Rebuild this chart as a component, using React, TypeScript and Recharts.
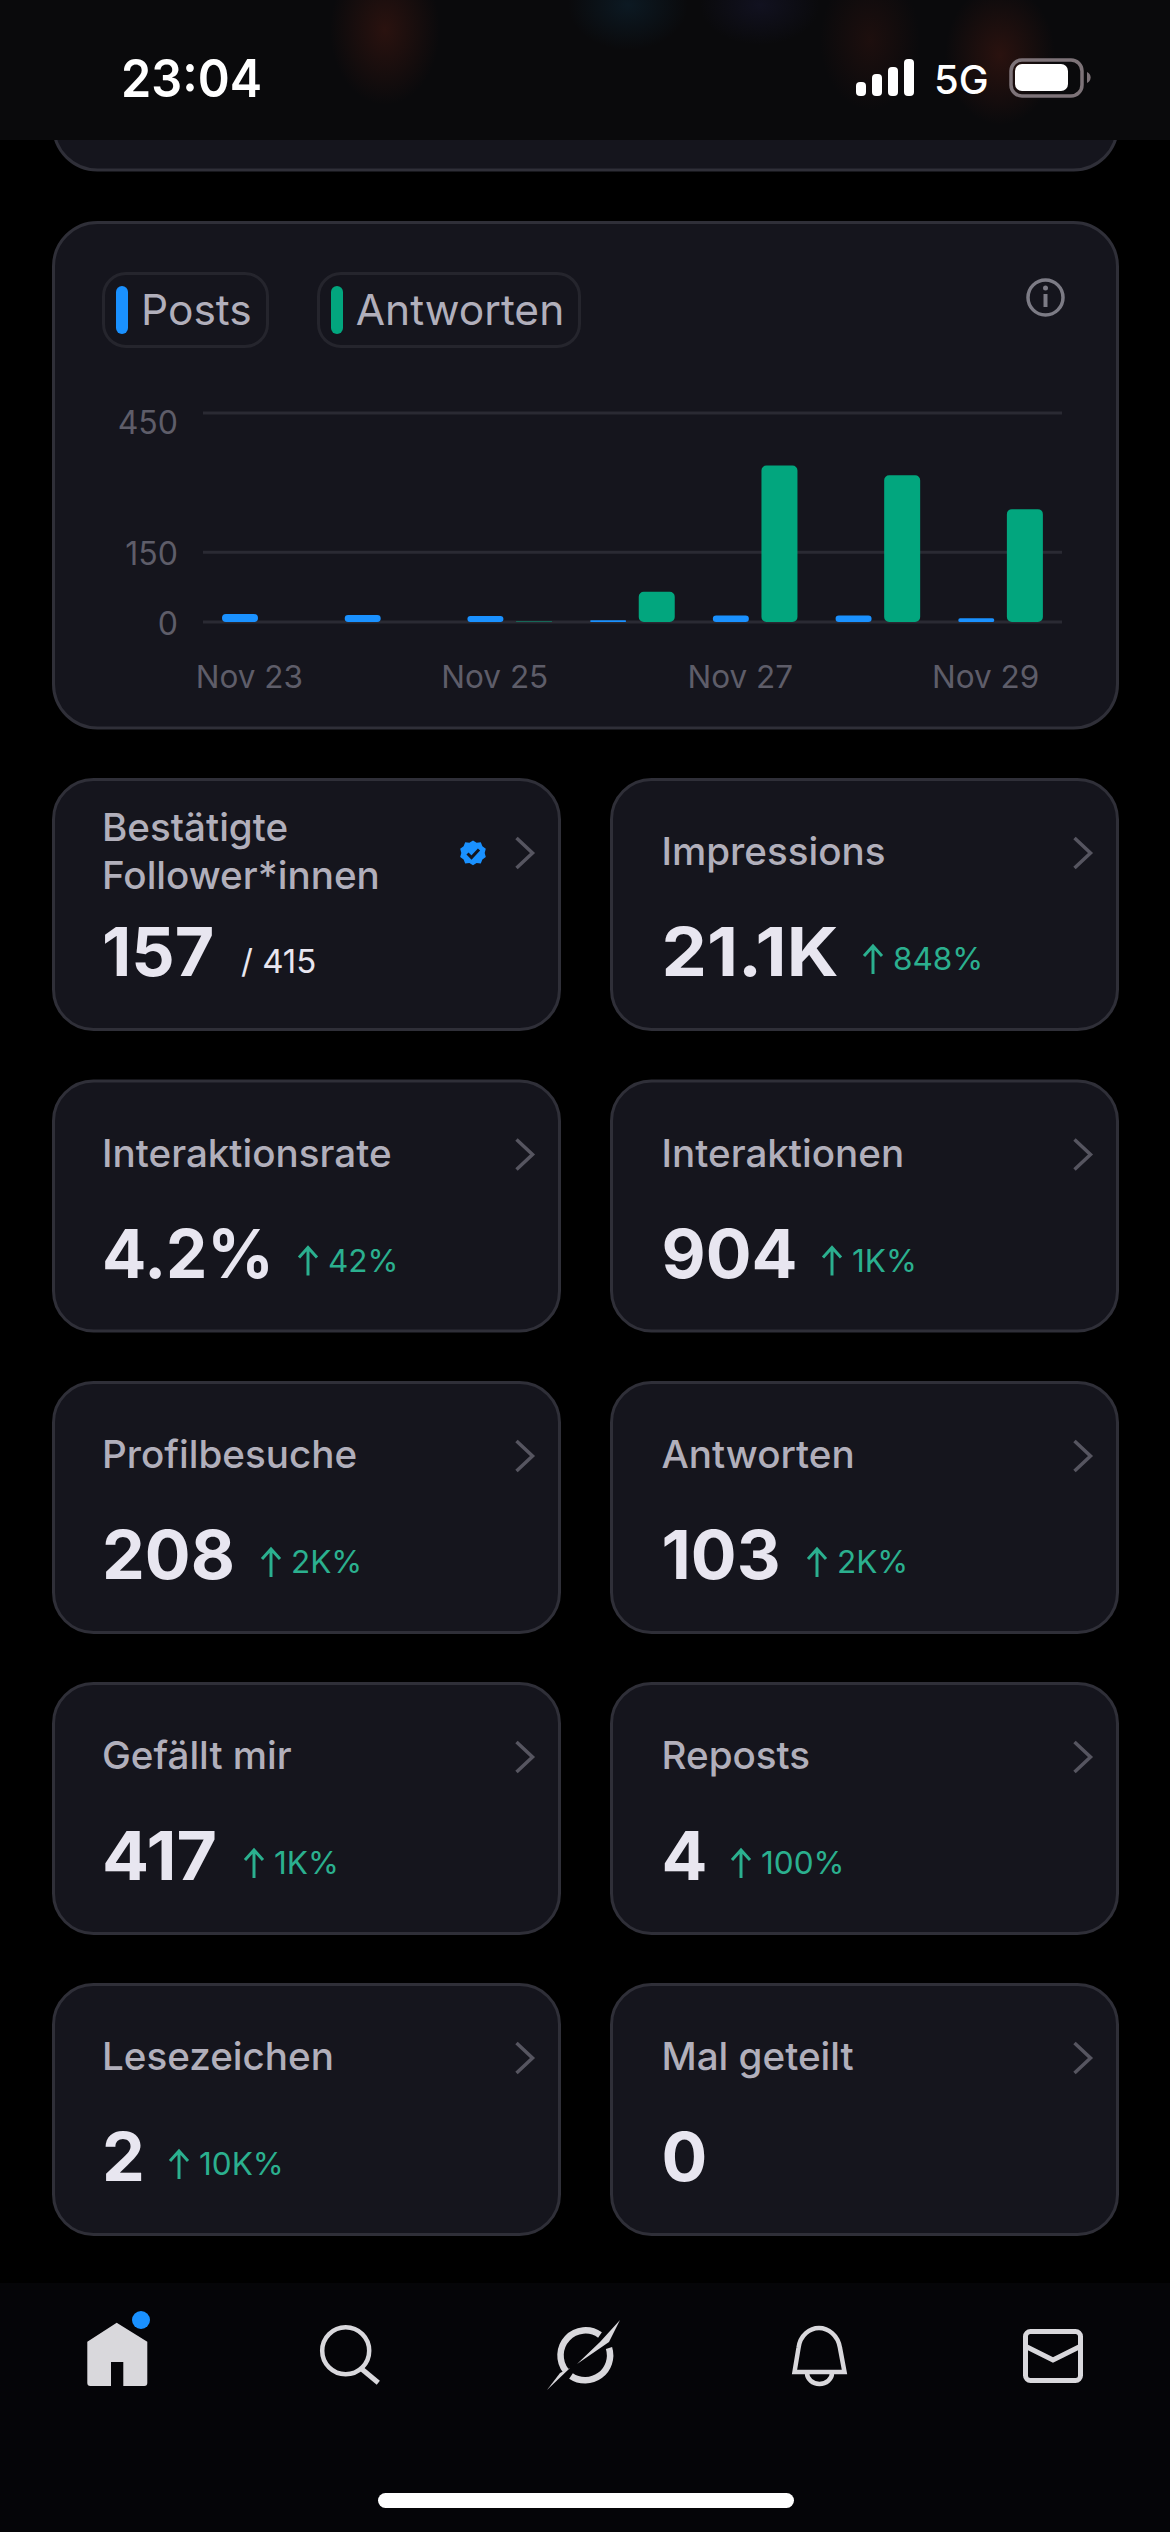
import React from "react";
import { BarChart, Bar, XAxis, YAxis, CartesianGrid, Legend } from "recharts";

const days = ["Nov 23", "Nov 24", "Nov 25", "Nov 26", "Nov 27", "Nov 28", "Nov 29"];
const posts = [17, 15, 13, 4, 14, 14, 8];
const replies = [0, 0, 1, 65, 337, 316, 243];
const yTicks = [0, 150, 450];

const metricLabels = ["Impressions", "Interaktionsrate", "Interaktionen", "Profilbesuche", "Antworten", "Gefällt mir", "Reposts", "Lesezeichen", "Mal geteilt"];
const metricValues = ["21.1K", "4.2%", "904", "208", "103", "417", "4", "2", "0"];
const metricDeltas = ["848%", "42%", "1K%", "2K%", "2K%", "1K%", "100%", "10K%", ""];
const deltaArrowX = [863, 298, 822, 261, 807, 244, 731, 169, 0];

const chartData = days.map((d, i) => ({ day: d, posts: posts[i], replies: replies[i] }));

const FONT = "Inter, 'Noto Sans', sans-serif";
const CARD = "#15151d";
const BORDER = "#2f2f38";
const LABEL = "#b1afbb";
const VALUE = "#e8e6f0";
const GREEN_TEXT = "#2bb08f";
const ICON = "#d9d8dc";
const ROW_TOPS = [778, 1079.5, 1381, 1682, 1983];
const COL_LEFTS = [52, 610];
const CARD_W = 509;
const CARD_H = 253;
const VALUE_FIT: Record<string, number> = { "21.1K": 177, "4.2%": 172, "417": 115 };

function Chevron({ x, y }: { x: number; y: number }) {
  return <path d={`M${x + 464.5} ${y + 60}L${x + 480.5} ${y + 75}L${x + 464.5} ${y + 90}`} fill="none" stroke="#565560" strokeWidth={3.5} />;
}

function Card({ x, y }: { x: number; y: number }) {
  return <rect x={x + 1.5} y={y + 1.5} width={CARD_W - 3} height={CARD_H - 3} rx={40} fill={CARD} stroke={BORDER} strokeWidth={3} />;
}

function Delta({ x, baseline, text }: { x: number; baseline: number; text: string }) {
  return (
    <g>
      <path d={`M${x + 10} ${baseline + 4}V${baseline - 24}M${x + 1} ${baseline - 14}L${x + 10} ${baseline - 24}L${x + 19} ${baseline - 14}`} fill="none" stroke={GREEN_TEXT} strokeWidth={3} />
      <text x={x + 30} y={baseline} fill={GREEN_TEXT} fontSize={31.5} fontFamily={FONT}>{text}</text>
    </g>
  );
}

function Metric({ index }: { index: number }) {
  const pos = index + 1;
  const col = pos % 2;
  const row = Math.floor(pos / 2);
  const x = COL_LEFTS[col];
  const y = ROW_TOPS[row];
  const textX = x + (col ? 51.5 : 50);
  const fit = VALUE_FIT[metricValues[index]];
  return (
    <g>
      <Card x={x} y={y} />
      <text x={textX} y={y + 87} fill={LABEL} fontSize={38.6} fontWeight={500} fontFamily={FONT}>{metricLabels[index]}</text>
      <text x={textX} y={y + 198} fill={VALUE} fontSize={68} fontWeight={700} fontFamily={FONT} {...(fit ? { textLength: fit, lengthAdjust: "spacingAndGlyphs" } : {})}>{metricValues[index]}</text>
      {metricDeltas[index] ? <Delta x={deltaArrowX[index]} baseline={y + 192} text={metricDeltas[index]} /> : null}
      <Chevron x={x} y={y} />
    </g>
  );
}

function Backdrop() {
  return (
    <svg width={1170} height={2532} style={{ position: "absolute", left: 0, top: 0 }}>
      <defs>
        <radialGradient id="redBlob"><stop offset="0%" stopColor="#4a1a12" stopOpacity={0.5} /><stop offset="100%" stopColor="#4a1a12" stopOpacity={0} /></radialGradient>
        <radialGradient id="blueBlob"><stop offset="0%" stopColor="#0f3045" stopOpacity={0.4} /><stop offset="100%" stopColor="#0f3045" stopOpacity={0} /></radialGradient>
        <radialGradient id="navyBlob"><stop offset="0%" stopColor="#1a1a38" stopOpacity={0.45} /><stop offset="100%" stopColor="#1a1a38" stopOpacity={0} /></radialGradient>
      </defs>
      <rect x={0} y={0} width={1170} height={2532} fill="#000" />

      <rect x={53.5} y={60} width={1064} height={110} rx={44} fill={CARD} stroke={BORDER} strokeWidth={3} />
      <rect x={53.5} y={222.5} width={1064} height={505.5} rx={44} fill={CARD} stroke={BORDER} strokeWidth={3} />

      {/* status bar */}
      <rect x={0} y={0} width={1170} height={140} fill="#0a0a0c" />
      <ellipse cx={385} cy={30} rx={55} ry={75} fill="url(#redBlob)" />
      <ellipse cx={628} cy={5} rx={60} ry={45} fill="url(#blueBlob)" />
      <ellipse cx={760} cy={5} rx={60} ry={40} fill="url(#navyBlob)" />
      <ellipse cx={870} cy={40} rx={50} ry={70} fill="url(#redBlob)" opacity={0.6} />
      <ellipse cx={1000} cy={55} rx={55} ry={70} fill="url(#redBlob)" />
      <text x={121} y={97} fill="#fff" fontSize={52} fontWeight={600} fontFamily={FONT} textLength={141} lengthAdjust="spacingAndGlyphs">23:04</text>
      <rect x={856} y={82} width={10} height={14} rx={4} fill="#fff" />
      <rect x={872} y={74} width={10} height={22} rx={4} fill="#fff" />
      <rect x={888} y={67} width={10} height={29} rx={4} fill="#fff" />
      <rect x={904} y={59} width={10} height={37} rx={4} fill="#fff" />
      <text x={934} y={94} fill="#fff" fontSize={40} fontWeight={500} fontFamily={FONT}>5G</text>
      <rect x={1011} y={60} width={71} height={36} rx={11} fill="none" stroke="#7d7378" strokeWidth={3.5} />
      <rect x={1015} y={64} width={53} height={27} rx={7} fill="#fff" />
      <path d="M1087 72A6 6 0 0 1 1087 83Z" fill="#7d7378" />

      {/* info icon */}
      <circle cx={1045.5} cy={297.5} r={17.5} fill="none" stroke="#7c7b85" strokeWidth={3.5} />
      <circle cx={1045.5} cy={288} r={2.5} fill="#7c7b85" />
      <rect x={1043.5} y={294} width={4} height={13} fill="#7c7b85" />

      {/* confirmed followers */}
      <Card x={COL_LEFTS[0]} y={ROW_TOPS[0]} />
      <text x={102} y={841} fill={LABEL} fontSize={38.6} fontWeight={500} fontFamily={FONT}>Bestätigte</text>
      <text x={102} y={889} fill={LABEL} fontSize={38.6} fontWeight={500} fontFamily={FONT}>Follower*innen</text>
      <text x={102} y={976} fill={VALUE} fontSize={68} fontWeight={700} fontFamily={FONT}>157</text>
      <text x={241} y={973} fill={VALUE} fontSize={33} fontFamily={FONT}>/ 415</text>
      <path d="M473 840.5l3.6 2.2 4.2-.4 1.6 3.9 3.4 2.6-1.1 4.1 1.1 4.1-3.4 2.6-1.6 3.9-4.2-.4-3.6 2.2-3.6-2.2-4.2.4-1.6-3.9-3.4-2.6 1.1-4.1-1.1-4.1 3.4-2.6 1.6-3.9 4.2.4z" fill="#1a91ff" />
      <path d="M467.5 853.5l4 4 7.5-8" fill="none" stroke="#15151d" strokeWidth={3} />
      <Chevron x={COL_LEFTS[0]} y={ROW_TOPS[0]} />

      {metricLabels.map((_, i) => <Metric key={i} index={i} />)}

      {/* navigation */}
      <rect x={0} y={2283} width={1170} height={249} fill="#050508" />
      <path fillRule="evenodd" d="M116.7 2322.7L147.3 2341.7V2383Q147.3 2386 144.3 2386H123.3V2362H111V2386H90.3Q87.3 2386 87.3 2383V2341.7Z" fill={ICON} />
      <circle cx={141} cy={2320} r={9} fill="#1a91ff" />
      <circle cx={345.7} cy={2350.7} r={23.5} fill="none" stroke={ICON} strokeWidth={4.5} />
      <path d="M361.7 2369L378.3 2382.7" stroke={ICON} strokeWidth={5} />
      <path d="M600 2335A25 25 0 0 0 566 2371" fill="none" stroke={ICON} strokeWidth={6.5} />
      <path d="M571 2376A25 25 0 0 0 609 2348" fill="none" stroke={ICON} strokeWidth={6.5} />
      <path d="M620 2320L609 2342L577 2364L600 2342Z" fill={ICON} />
      <path d="M547 2390L570 2368L560 2373Z" fill={ICON} />
      <path d="M794.5 2372L798.5 2348C800 2335 810 2328 819 2328C828 2328 838 2335 840 2348L844.5 2372Z" fill="none" stroke={ICON} strokeWidth={4.5} />
      <path d="M807 2373A12.5 11 0 0 0 832 2373" fill="none" stroke={ICON} strokeWidth={4.5} />
      <rect x={1025.5} y={2331.5} width={55} height={49} rx={5} fill="none" stroke={ICON} strokeWidth={5} />
      <path d="M1027 2347L1053 2360L1079 2347" fill="none" stroke={ICON} strokeWidth={5} />
      <rect x={378} y={2493} width={416} height={15} rx={7.5} fill="#fff" />
    </svg>
  );
}

function LegendChips({ payload }: any) {
  const items = [...(payload || [])].sort((a: any, b: any) => (a.dataKey === "posts" ? -1 : b.dataKey === "posts" ? 1 : 0));
  return (
    <div style={{ display: "flex", gap: 48, fontFamily: FONT }}>
      {items.map((p: any) => (
        <div key={p.value} style={{ boxSizing: "border-box", height: 76, borderRadius: 24, border: "3px solid #25252d", display: "flex", alignItems: "center", padding: "0 14px 0 11px", gap: 13 }}>
          <div style={{ width: 12, height: 48, borderRadius: 6, background: p.color }} />
          <span style={{ fontSize: 42.5, color: LABEL, lineHeight: "48px" }}>{p.value}</span>
        </div>
      ))}
    </div>
  );
}

function YTick({ x, y, payload }: any) {
  const shift = payload.value === 450 ? 21 : 13;
  return <text x={x} y={y + shift} textAnchor="end" fill="#5e5d69" fontSize={32} fontFamily={FONT}>{payload.value}</text>;
}

export default function App() {
  return (
    <div style={{ position: "absolute", left: 0, top: 0, width: 1170, height: 2532, background: "#000", overflow: "hidden" }}>
      <Backdrop />
      <div style={{ position: "absolute", left: 0, top: 221 }}>
        <BarChart width={1170} height={507} data={chartData} barSize={36} barGap={12.6} margin={{ top: 192, right: 108, bottom: 46, left: 143 }}>
          <CartesianGrid vertical={false} stroke="#2a2a33" strokeWidth={3} />
          <XAxis dataKey="day" interval={1} axisLine={false} tickLine={false} height={60} tick={{ fill: "#5e5d69", fontSize: 31.5, fontFamily: FONT, dx: -15 }} tickMargin={38} />
          <YAxis domain={[0, 450]} ticks={yTicks} width={60} axisLine={false} tickLine={false} tick={<YTick />} tickMargin={19} />
          <Legend layout="horizontal" verticalAlign="middle" align="center" wrapperStyle={{ left: 102, top: 51, width: "auto" }} content={<LegendChips />} />
          <Bar dataKey="posts" name="Posts" fill="#1a91ff" radius={5} isAnimationActive={false} />
          <Bar dataKey="replies" name="Antworten" fill="#02a67e" radius={5} isAnimationActive={false} />
        </BarChart>
      </div>
    </div>
  );
}
